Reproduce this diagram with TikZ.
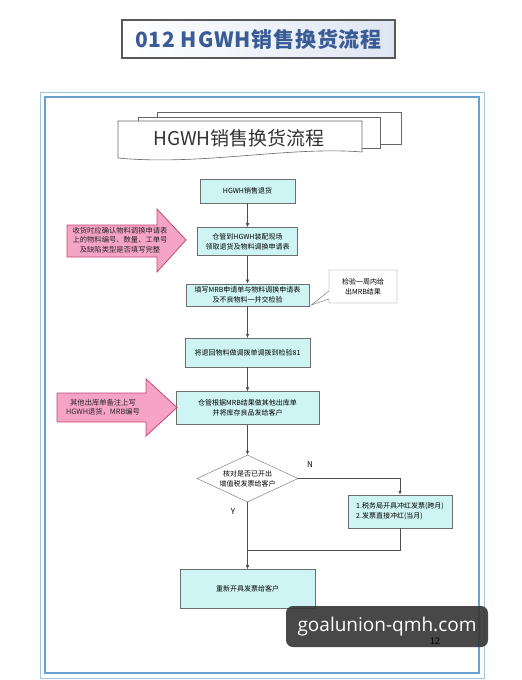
\documentclass[tikz,border=0pt]{standalone}
\usepackage{fontspec}
\setmainfont{Noto Sans CJK SC}
\newfontfamily\wmfont{Open Sans}
\usetikzlibrary{positioning,arrows.meta,calc,shapes.geometric,shapes.callouts}
\definecolor{boxcyan}{RGB}{206,245,244}
\definecolor{boxline}{RGB}{110,110,110}
\definecolor{pinkfill}{RGB}{246,164,198}
\definecolor{pinkline}{RGB}{196,70,120}
\definecolor{frameout}{RGB}{160,200,220}
\definecolor{framein}{RGB}{105,160,205}
\definecolor{titleblue}{RGB}{58,92,150}
\definecolor{titlefill}{RGB}{222,230,242}

\begin{document}
\begin{tikzpicture}[x=1pt,y=-1pt,>={Latex[length=4pt,width=3.5pt]},
    flow/.style={draw=boxline,fill=boxcyan,align=center,font=\fontsize{7}{10}\selectfont,inner sep=2pt},
    link/.style={draw=boxline!70!black,line width=0.6pt},
    sheet/.style={draw=black!60,fill=white,line width=0.6pt},
    pinkarrow/.style={draw=pinkline,fill=pinkfill,line width=0.8pt},
    note/.style={align=center,font=\fontsize{7.3}{9.5}\selectfont,text=black!85}]
    \useasboundingbox (0,0) rectangle (522,680);
    % page frame
    \draw[frameout,line width=0.8pt] (40,92) rectangle (484,678);
    \draw[framein,line width=2.4pt] (45,97) rectangle (479,673);
    % title
    \node[draw=black!65,line width=1.2pt,left color=white,right color=titlefill,minimum width=273pt,minimum height=38pt,
      font=\fontsize{21}{21}\bfseries\selectfont\addfontfeatures{LetterSpace=4},text=titleblue] (title) at (258.5,39) {012 HGWH销售换货流程};
    % header sheets
    \draw[sheet] (157,112) rectangle (401,144);
    \draw[sheet] (138,117) rectangle (380,148);
    \draw[sheet] (118,121) -- (362,121) -- (362,152) .. controls (290,146) and (200,166) .. (118,158) -- cycle;
    \node[font=\fontsize{19}{19}\selectfont,text=black!80] (head) at (239,138) {HGWH销售换货流程};
    % main column
    \node[flow,minimum width=95pt,minimum height=24pt] (b1) at (247.5,191) {HGWH销售退货};
    \node[flow,minimum width=100pt,minimum height=28pt,below=24pt of b1] (b2) {仓管到HGWH装配现场\\领取退货及物料调换申请表};
    \node[flow,minimum width=123pt,minimum height=22pt,below=28pt of b2] (b3) {填写MRB申请单与物料调换申请表\\及不良物料一并交检验};
    \node[flow,minimum width=125pt,minimum height=29pt,below=32pt of b3] (b4) {将退回物料做调拨单调拨到检验81};
    \node[flow,minimum width=143pt,minimum height=33pt,below=24pt of b4] (b5) {仓管根据MRB结果做其他出库单\\并将库存良品发给客户};
    \node[flow,fill=white,diamond,aspect=2.2,inner sep=0pt,minimum width=101pt,minimum height=47pt,below=30pt of b5] (dia) {核对是否已开出\\增值税发票给客户};
    \node[flow,minimum width=135pt,minimum height=39pt,below=67pt of dia] (b6) {重新开具发票给客户};
    \node[flow,align=left,minimum width=104pt,minimum height=33pt] (rb) at (400,511.5) {1.税务局开具冲红发票(跨月)\\2.发票直接冲红(当月)};
    % callout
    \node[draw=boxline,fill=white,rectangle callout,callout absolute pointer={($(b3.south east)+(2,-1)$)},callout pointer width=8pt,
      minimum width=68pt,minimum height=33pt,align=center,font=\fontsize{7}{10}\selectfont] (chk) at (363,286.5) {检验一周内给\\出MRB结果};
    % pink notes
    \draw[pinkarrow] (67,225) -- (157,225) -- (157,209) -- (186,240) -- (157,272) -- (157,257) -- (67,257) -- cycle;
    \node[note] (note1) at (120,240) {收货时应确认物料调换申请表\\上的物料编号、数量、工单号\\及缺陷类型是否填写完整};
    \draw[pinkarrow] (57,393) -- (146,393) -- (146,379) -- (177,407.5) -- (146,436) -- (146,422) -- (57,422) -- cycle;
    \node[note] (note2) at (103,407.5) {其他出库单备注上写\\HGWH退货，MRB编号};
    % connectors
    \draw[link,->] (b1) -- (b2);
    \draw[link,->] (b2) -- (b3);
    \draw[link,->] (b3) -- (b4);
    \draw[link,->] (b4) -- (b5);
    \draw[link,->] (b5) -- (dia);
    \draw[link,->] (dia.east) -| (rb.north);
    \draw[link,->] (dia.south) -- (b6.north);
    \draw[link] (rb.south) |- ($(dia.south)!.72!(b6.north)$);
    \node[font=\fontsize{8}{8}\selectfont] (nlab) at (310,465) {N};
    \node[font=\fontsize{8}{8}\selectfont] (ylab) at (233,512) {Y};
    % watermark and page number
    \node[fill=black!78,fill opacity=.92,text opacity=1,text=white,rounded corners=7pt,minimum width=202pt,minimum height=41pt,
      font=\wmfont\fontsize{19}{19}\selectfont] (wm) at (387,626.5) {goalunion-qmh.com};
    \node[font=\fontsize{9}{9}\selectfont,text=black] (pgno) at (435,641) {12};
\end{tikzpicture}
\end{document}
